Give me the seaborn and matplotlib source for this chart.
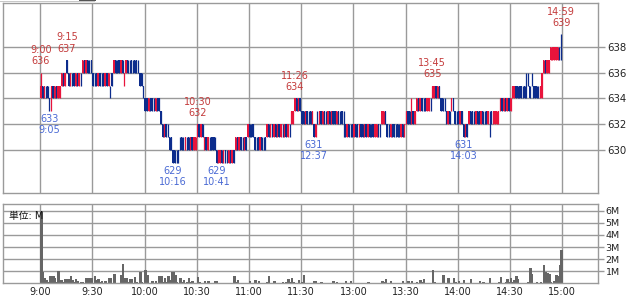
import matplotlib
matplotlib.use("Agg")
import matplotlib.pyplot as plt
import seaborn as sns
import numpy as np
import pandas as pd
from matplotlib.patches import Rectangle

# ---- data: 1-minute candles, minute index 0 = 9:00, 150 = 12:30 (afternoon open) ----
opens = [
    634,635,634,635,635,634,633,635,634,635,
    634,634,635,636,635,637,636,635,636,636,
    635,636,635,636,636,637,636,637,637,637,
    636,636,636,635,636,635,636,635,636,635,
    635,636,636,637,637,637,636,637,635,636,
    637,637,637,637,637,637,636,636,636,635,
    634,634,633,634,634,634,633,634,634,633,
    632,631,632,632,631,631,630,630,630,630,
    630,631,631,630,631,631,630,631,630,630,
    631,632,631,632,630,631,630,631,631,631,
    631,630,629,629,630,629,630,630,629,630,
    629,630,630,631,630,631,631,630,631,631,
    632,632,632,631,631,631,630,631,631,631,
    631,632,631,632,631,632,631,632,631,632,
    631,632,631,632,632,632,633,634,633,634,
    633,633,632,633,633,633,632,632,631,632,
    632,633,632,633,633,632,633,632,633,633,
    632,633,633,633,632,632,631,632,632,632,
    631,632,632,631,632,632,631,632,631,632,
    632,632,631,631,632,632,632,632,633,632,
    632,631,632,632,632,632,632,631,632,631,
    632,633,633,632,633,632,633,634,633,634,
    634,634,633,633,634,634,634,635,634,635,
    634,634,633,633,632,633,633,634,633,633,
    633,632,633,632,631,632,632,633,633,633,
    632,633,633,632,633,633,633,632,632,633,
    632,632,632,632,633,634,633,634,633,634,
    633,634,634,635,635,635,635,635,635,635,
    635,635,635,635,635,635,634,634,634,636,
    637,636,636,637,637,637,637,637,638,638,
]
closes = [
    635,634,635,635,634,633,635,634,635,634,
    635,635,636,635,636,636,635,636,636,635,
    636,635,636,636,637,636,637,636,637,636,
    635,636,635,636,635,635,635,636,635,636,
    635,635,637,636,637,636,637,636,636,637,
    636,637,636,637,636,636,636,635,635,634,
    633,633,634,633,633,634,634,633,633,632,
    631,632,631,632,630,630,629,629,630,629,
    630,630,631,631,631,630,631,630,631,631,
    632,631,632,631,631,630,631,631,630,630,
    630,629,630,630,629,630,629,630,630,629,
    630,629,631,630,631,630,631,631,630,632,
    631,632,631,630,631,630,631,630,631,630,
    632,631,632,631,632,631,632,631,632,632,
    632,631,632,632,633,633,634,633,634,633,
    632,632,633,632,633,632,633,631,632,632,
    633,632,633,632,633,633,632,633,632,632,
    633,632,633,632,632,631,632,631,632,631,
    632,631,631,632,631,631,632,631,632,631,
    632,631,632,632,631,632,633,633,632,631,
    632,632,631,631,632,631,632,632,631,632,
    633,632,632,633,632,633,634,633,634,633,
    634,633,634,634,634,635,635,634,635,634,
    633,633,633,632,633,632,634,633,632,633,
    632,633,632,631,632,631,633,632,632,633,
    633,632,632,633,632,633,632,633,632,632,
    633,633,633,633,634,633,634,633,634,633,
    634,635,635,634,634,634,634,635,634,635,
    635,634,635,634,634,634,634,635,636,637,
    636,637,637,638,638,638,638,638,638,638,
]
highs = [
    636,635,635,635,635,634,635,635,635,635,
    635,635,636,636,636,637,636,636,636,636,
    636,636,636,636,637,637,637,637,637,637,
    636,636,636,636,636,636,636,636,636,636,
    635,636,637,637,637,637,637,637,636,637,
    637,637,637,637,637,637,637,636,636,635,
    634,634,634,634,634,634,634,634,634,633,
    632,632,632,632,631,631,630,630,630,630,
    631,631,631,631,631,631,631,631,631,631,
    632,632,632,632,631,631,631,631,631,631,
    631,630,630,630,630,630,630,630,630,630,
    630,630,631,631,631,631,631,631,631,632,
    632,632,632,631,631,631,631,631,631,631,
    632,632,632,632,632,632,632,632,632,632,
    632,632,632,632,633,633,634,634,634,634,
    633,633,633,633,633,633,633,632,632,633,
    633,633,633,633,633,633,633,633,633,633,
    633,633,633,633,633,632,632,632,632,632,
    632,632,632,632,632,632,632,632,632,632,
    632,632,632,632,632,632,633,633,633,632,
    632,632,632,632,632,632,632,632,632,632,
    633,633,633,634,633,633,634,634,634,634,
    634,634,634,634,634,635,635,635,635,635,
    634,634,634,633,633,633,634,634,633,633,
    633,633,633,632,632,632,633,633,633,633,
    633,633,633,633,633,633,633,633,633,633,
    633,633,633,633,634,634,634,634,634,634,
    634,635,635,635,635,635,635,635,635,636,
    636,635,636,635,635,635,635,635,636,637,
    637,637,637,638,638,638,638,638,638,639,
]
lows = [
    634,634,634,634,634,633,633,634,634,634,
    634,634,635,635,635,636,635,635,635,635,
    635,635,635,635,636,636,636,636,636,636,
    635,635,635,635,635,635,635,635,635,635,
    634,635,636,636,636,636,636,636,635,636,
    636,636,636,636,636,636,636,635,635,634,
    633,633,633,633,633,633,633,633,633,632,
    631,631,631,631,630,630,629,629,629,629,
    630,630,630,630,630,630,630,630,630,630,
    631,631,631,631,630,630,630,630,630,630,
    630,629,629,629,629,629,629,629,629,629,
    629,629,630,630,630,630,630,630,630,631,
    631,631,631,630,630,630,630,630,630,630,
    631,631,631,631,631,631,631,631,631,631,
    631,631,631,631,632,632,633,633,633,633,
    632,632,632,632,632,632,632,631,631,632,
    632,632,632,632,632,632,632,632,632,632,
    632,632,632,632,631,631,631,631,631,631,
    631,631,631,631,631,631,631,631,631,631,
    631,631,631,631,631,631,632,632,632,631,
    631,631,631,631,631,631,631,631,631,631,
    632,632,632,632,632,632,633,633,633,633,
    633,633,633,633,633,634,634,634,634,634,
    633,633,633,632,632,632,633,633,632,632,
    632,632,632,631,631,631,632,632,632,632,
    632,632,632,632,632,632,632,632,631,632,
    632,632,632,632,633,633,633,633,633,633,
    633,634,634,634,634,634,634,634,634,634,
    635,634,635,634,634,634,634,634,634,636,
    636,636,636,637,637,637,637,637,637,637,
]
# volume per minute, millions of shares
volumes = [
    5.9,0.96,0.45,0.3,0.1,0.6,0.6,0.6,0.4,0.1,
    1.0,0.3,0.28,0.1,0.36,0.36,0.36,0.6,0.28,0.1,
    0.36,0.2,0.05,0.08,0.08,0.05,0.4,0.4,0.47,0.47,
    0.05,0.63,0.3,0.36,0.1,0.2,0.05,0.15,0.05,0.47,
    0.47,0.05,0.74,0.05,0.0,0.05,0.69,1.6,0.4,0.4,
    0.1,0.36,0.36,0.05,0.55,0.1,0.05,0.9,0.1,0.05,
    1.07,0.69,0.05,0.0,0.15,0.05,0.2,0.05,0.6,0.6,
    0.1,0.4,0.1,0.6,0.3,0.96,0.96,0.69,0.1,0.05,
    0.4,0.1,0.28,0.05,0.1,0.47,0.1,0.15,0.05,0.05,
    0.55,0.1,0.05,0.0,0.22,0.05,0.15,0.05,0.0,0.05,
    0.2,0.2,0.05,0.0,0.0,0.05,0.0,0.0,0.05,0.0,
    0.05,0.63,0.1,0.28,0.05,0.0,0.0,0.05,0.0,0.05,
    0.2,0.05,0.05,0.25,0.05,0.15,0.0,0.05,0.0,0.05,
    0.1,0.63,0.05,0.0,0.15,0.0,0.05,0.0,0.0,0.08,
    0.05,0.1,0.36,0.1,0.47,0.1,0.05,0.05,0.28,0.05,
    0.1,0.69,0.05,0.0,0.05,0.0,0.05,0.2,0.2,0.0,
    0.05,0.08,0.0,0.0,0.05,0.0,0.0,0.05,0.2,0.05,
    0.1,0.0,0.0,0.05,0.0,0.2,0.05,0.05,0.2,0.05,
    0.0,0.0,0.05,0.0,0.0,0.0,0.05,0.0,0.08,0.0,
    0.0,0.05,0.0,0.05,0.0,0.05,0.2,0.1,0.36,0.05,
    0.05,0.2,0.05,0.0,0.0,0.05,0.0,0.05,0.15,0.05,
    0.05,0.2,0.05,0.2,0.05,0.0,0.08,0.05,0.28,0.1,
    0.36,0.05,0.0,0.05,0.05,1.07,0.1,0.0,0.05,0.0,
    0.05,0.69,0.05,0.05,0.47,0.05,0.05,0.47,0.1,0.05,
    0.2,0.05,0.05,0.28,0.05,0.0,0.05,0.36,0.05,0.0,
    0.05,0.05,0.2,0.05,0.13,0.0,0.05,0.05,0.47,0.05,
    0.0,0.05,0.05,0.1,0.55,0.05,0.05,0.1,0.36,0.1,
    0.47,0.1,0.3,0.6,0.36,0.05,0.05,0.0,0.05,0.05,
    0.1,1.24,0.74,0.05,0.05,0.13,0.05,0.08,0.05,1.5,
    0.9,0.88,0.74,0.1,0.05,0.15,0.69,0.6,1.5,2.75,
]

time_ticks = [0, 30, 60, 90, 120, 150, 180, 210, 240, 270, 300]
time_labels = ["9:00", "9:30", "10:00", "10:30", "11:00", "11:30",
               "13:00", "13:30", "14:00", "14:30", "15:00"]
price_ticks = [630, 632, 634, 636, 638]
vol_ticks = [1, 2, 3, 4, 5, 6]
vol_labels = ["1M", "2M", "3M", "4M", "5M", "6M"]

high_minutes = [0, 15, 90, 146, 225, 299]
high_times = ["9:00", "9:15", "10:30", "11:26", "13:45", "14:59"]
low_minutes = [5, 76, 101, 157, 243]
low_times = ["9:05", "10:16", "10:41", "12:37", "14:03"]

# ---- style ----
RED = "#e8143c"
BLUE = "#0c2c8c"
GRID = "#9a9a9a"
HI_TXT = "#c43c3c"
LO_TXT = "#4a6ad4"

sns.set_style("white")
plt.rcParams["font.family"] = ["DejaVu Sans", "Noto Sans CJK JP"]

W, H = 635, 297
fig = plt.figure(figsize=(W / 100, H / 100), dpi=100)
fig.patch.set_facecolor("white")

def axes_px(x0, y0, x1, y1):
    return fig.add_axes([x0 / W, 1 - y1 / H, (x1 - x0) / W, (y1 - y0) / H])

ax1 = axes_px(3, 3, 598, 193)
ax2 = axes_px(3, 204.3, 598, 283.3)

XL = (-21.4, 320.5)
OFF = 0.3

o = np.array(opens); c = np.array(closes)
h = np.array(highs); l = np.array(lows)
n = len(o)
x = np.arange(n) + OFF
colors = np.where(c > o, RED, BLUE)

ax1.vlines(x, l, h, colors=colors, lw=0.9, zorder=3)
ax1.bar(x, np.abs(c - o), bottom=np.minimum(o, c), width=0.8,
        color=colors, linewidth=0, zorder=3)

ax1.set_xlim(*XL)
ax1.set_ylim(626.67, 641.4)
ax1.set_xticks(time_ticks)
ax1.set_yticks(price_ticks)
ax1.yaxis.tick_right()
ax1.tick_params(axis="x", length=0, labelbottom=False)
ax1.tick_params(axis="y", length=5, width=1, color=GRID, pad=2,
                labelsize=7.3, labelcolor="#222222")
ax1.grid(True, color=GRID, lw=1)
ax1.set_axisbelow(True)

for m, t in zip(high_minutes, high_times):
    ax1.annotate(f"{t}\n{highs[m]}", xy=(m + OFF, highs[m]), xytext=(0, 4.5),
                 textcoords="offset points", ha="center", va="bottom",
                 fontsize=7, color=HI_TXT, linespacing=1.15)
for m, t in zip(low_minutes, low_times):
    ax1.annotate(f"{lows[m]}\n{t}", xy=(m + OFF, lows[m]), xytext=(0, -2),
                 textcoords="offset points", ha="center", va="top",
                 fontsize=7, color=LO_TXT, linespacing=1.15)

# ---- volume ----
df = pd.DataFrame({"minute": np.arange(n) + 0.6, "vol": volumes})
sns.barplot(data=df, x="minute", y="vol", native_scale=True, width=1.4,
            color="#666666", saturation=1, errorbar=None, linewidth=0, ax=ax2)
ax2.set_xlim(*XL)
ax2.set_ylim(0, 6.53)
ax2.set_xlabel("")
ax2.set_ylabel("")
ax2.set_xticks(time_ticks)
ax2.set_xticklabels(time_labels)
ax2.set_yticks(vol_ticks)
ax2.set_yticklabels(vol_labels)
ax2.yaxis.tick_right()
ax2.tick_params(axis="x", length=0, pad=3, labelsize=7, labelcolor="#222222")
ax2.tick_params(axis="y", length=4, width=1, color=GRID, pad=1.5,
                labelsize=6.8, labelcolor="#222222")
ax2.grid(True, color=GRID, lw=1)
ax2.set_axisbelow(True)
ax2.text(0.01, 0.92, "単位: M", transform=ax2.transAxes, fontsize=7,
         ha="left", va="top", color="#111111", zorder=5)

for ax in (ax1, ax2):
    for s in ax.spines.values():
        s.set_color(GRID)
        s.set_linewidth(1)

# small scroll marks at the very top edge
fig.patches.append(Rectangle((0, 1 - 2 / H), 95 / W, 1 / H, transform=fig.transFigure,
                             color="#c8c8c8", lw=0))
fig.patches.append(Rectangle((79 / W, 1 - 1.2 / H), 17 / W, 1.2 / H,
                             transform=fig.transFigure, color="#555555", lw=0))

fig.savefig("out.png", dpi=100, facecolor="white")
